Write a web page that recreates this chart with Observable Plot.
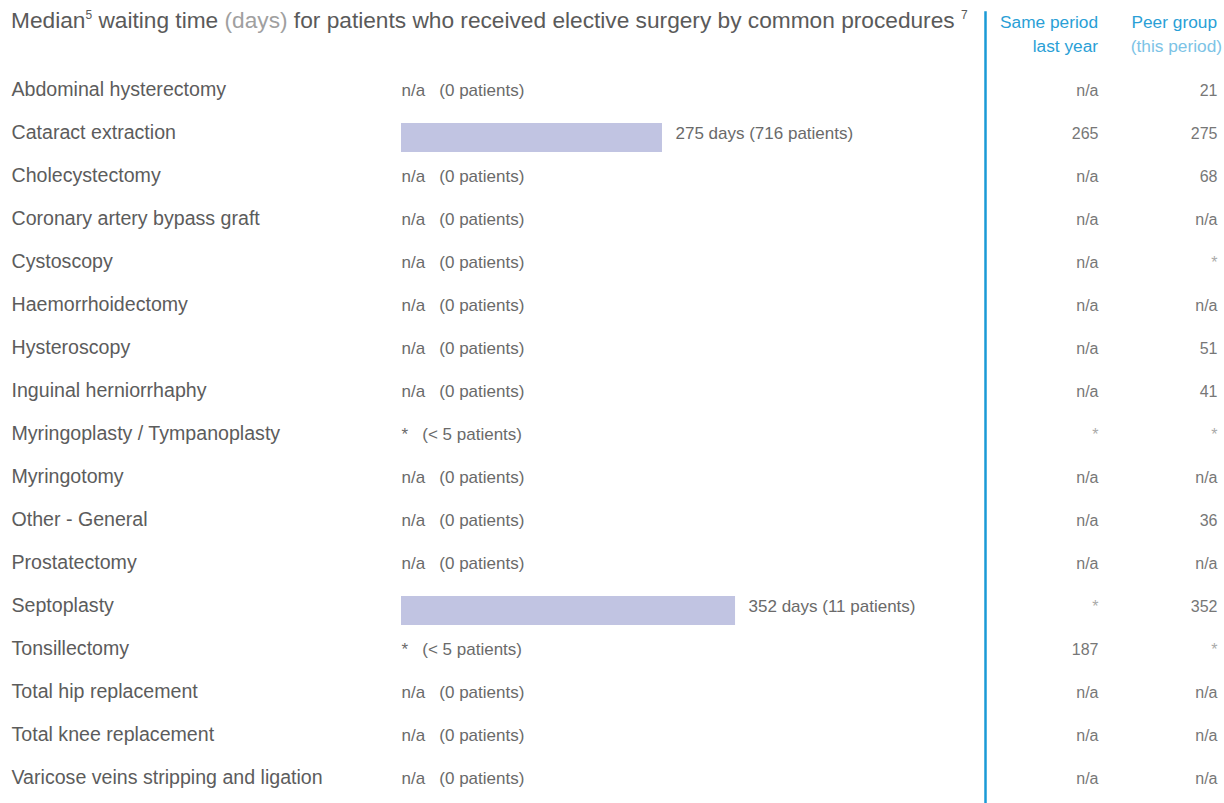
<!DOCTYPE html>
<html>
<head>
<meta charset="utf-8">
<script src="https://cdn.jsdelivr.net/npm/d3@7"></script>
<script src="https://cdn.jsdelivr.net/npm/@observablehq/plot@0.6"></script>
<style>
  html, body { margin: 0; padding: 0; background: #fff; }
  #wrap { position: relative; width: 1224px; height: 803px; overflow: hidden; font-family: "Liberation Sans", Arial, sans-serif; }
  #title { position: absolute; left: 11px; top: 7px; font-size: 22.7px; color: #5a5a5a; white-space: nowrap; }
  #title sup { font-size: 12px; vertical-align: 9px; line-height: 0; }
  #title .light { color: #a0a0a0; }
  .colhead { position: absolute; top: 10px; text-align: right; font-size: 17.3px; line-height: 24px; color: #2a9fd6; white-space: nowrap; }
  .colhead .light { color: #7cc3e6; }
</style>
</head>
<body>
<div id="wrap">
  <div id="chart"></div>
  <div id="title">Median<sup>5</sup> waiting time <span class="light">(days)</span> for patients who received elective surgery by common procedures <sup>7</sup></div>
  <div class="colhead" style="right:126px;">Same period<br>last year</div>
  <div class="colhead" style="right:2px;"><span style="padding-right:5px">Peer group</span><br><span class="light">(this period)</span></div>
</div>
<script>
const procedures = [
  "Abdominal hysterectomy",
  "Cataract extraction",
  "Cholecystectomy",
  "Coronary artery bypass graft",
  "Cystoscopy",
  "Haemorrhoidectomy",
  "Hysteroscopy",
  "Inguinal herniorrhaphy",
  "Myringoplasty / Tympanoplasty",
  "Myringotomy",
  "Other - General",
  "Prostatectomy",
  "Septoplasty",
  "Tonsillectomy",
  "Total hip replacement",
  "Total knee replacement",
  "Varicose veins stripping and ligation"
];
const medianDays = ["n/a", 275, "n/a", "n/a", "n/a", "n/a", "n/a", "n/a", "*", "n/a", "n/a", "n/a", 352, "*", "n/a", "n/a", "n/a"];
const patients = ["0", "716", "0", "0", "0", "0", "0", "0", "< 5", "0", "0", "0", "11", "< 5", "0", "0", "0"];
const lastYear = ["n/a", "265", "n/a", "n/a", "n/a", "n/a", "n/a", "n/a", "*", "n/a", "n/a", "n/a", "*", "187", "n/a", "n/a", "n/a"];
const peerGroup = ["21", "275", "68", "n/a", "*", "n/a", "51", "41", "*", "n/a", "36", "n/a", "352", "*", "n/a", "n/a", "n/a"];

const rows = procedures.map((p, i) => ({
  procedure: p, median: medianDays[i], patients: patients[i], lastYear: lastYear[i], peer: peerGroup[i]
}));
const withBar = rows.filter(d => typeof d.median === "number");
const noBar = rows.filter(d => typeof d.median !== "number");

const textColor = "#5c5c5c";
const valColor = "#6a6a6a";
const colColor = v => v === "*" ? "#aaa" : "#777";
const gap = "\u00a0\u00a0\u00a0";

const chart = Plot.plot({
  width: 1224,
  height: 803,
  marginLeft: 401,
  marginRight: 239,
  marginTop: 12,
  marginBottom: 0,
  style: "font-family: 'Liberation Sans', Arial, sans-serif; background: #fff; overflow: visible;",
  x: { domain: [0, 615.4], axis: null },
  y: { domain: procedures, range: [64, 802], padding: 0, axis: null },
  color: { type: "identity" },
  marks: [
    Plot.barX(withBar, { x: "median", y: "procedure", fill: "#c1c4e2", insetTop: 12, insetBottom: 2 }),
    Plot.text(withBar, { x: "median", y: "procedure", text: d => `${d.median} days (${d.patients} patients)`, textAnchor: "start", dx: 13, dy: 1, fontSize: 17, fill: valColor }),
    Plot.text(noBar, { x: 0, y: "procedure", text: d => `${d.median}${gap}(${d.patients} patients)`, textAnchor: "start", dy: 1, fontSize: 17, fill: valColor }),
    Plot.text(rows, { y: "procedure", text: "procedure", frameAnchor: "left", dx: -390, textAnchor: "start", fontSize: 19.6, fill: textColor }),
    Plot.text(rows, { y: "procedure", text: "lastYear", frameAnchor: "right", dx: 113, textAnchor: "end", dy: 1, fontSize: 16, fill: d => colColor(d.lastYear) }),
    Plot.text(rows, { y: "procedure", text: "peer", frameAnchor: "right", dx: 232, textAnchor: "end", dy: 1, fontSize: 16, fill: d => colColor(d.peer) }),
    Plot.frame({ anchor: "right", stroke: "#1a9ad6", strokeWidth: 2.5 })
  ]
});
document.getElementById("chart").appendChild(chart);
</script>
</body>
</html>
